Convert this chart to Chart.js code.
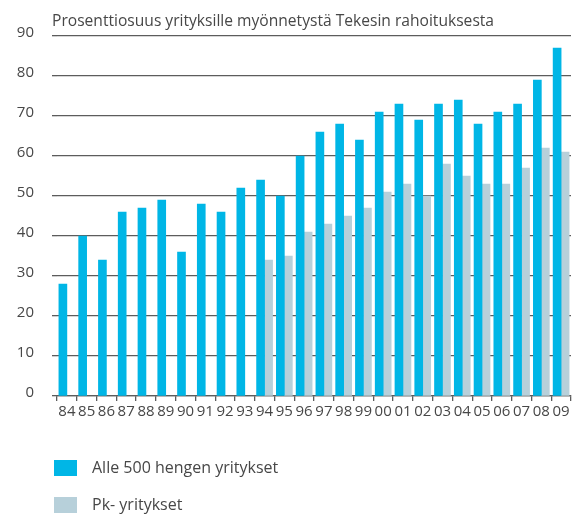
<!DOCTYPE html>
<html>
<head>
<meta charset="utf-8">
<script src="https://cdn.jsdelivr.net/npm/chart.js@4.4.1/dist/chart.umd.min.js"></script>
<style>
  html, body { margin: 0; padding: 0; background: #fff; }
  #wrap { width: 577px; height: 518px; position: relative; }
</style>
</head>
<body>
<div id="wrap"><canvas id="myChart"></canvas></div>
<script>
const chartTitle = "Prosenttiosuus yrityksille myönnetystä Tekesin rahoituksesta";
const years = ["84", "85", "86", "87", "88", "89", "90", "91", "92", "93", "94", "95", "96",
  "97", "98", "99", "00", "01", "02", "03", "04", "05", "06", "07", "08", "09"];
const alle500 = [28, 40, 34, 46, 47, 49, 36, 48, 46, 52, 54, 50, 60,
  66, 68, 64, 71, 73, 69, 73, 74, 68, 71, 73, 79, 87];
const pkYritykset = [null, null, null, null, null, null, null, null, null, null, 34, 35, 41,
  43, 45, 47, 51, 53, 50, 58, 55, 53, 53, 57, 62, 61];
const seriesNames = ["Alle 500 hengen yritykset", "Pk- yritykset"];
const yMin = 0, yMax = 90, yStep = 10;

const cyan = "#00b6e6";
const grey = "#b7d0da";
const textColor = "#474747";
const lineColor = "#5c5c5c";
const fontFamily = "'Open Sans', sans-serif";

// otsikko ja selite piirretään itse
const extras = {
  id: "extras",
  afterDraw(chart) {
    const c = chart.ctx;
    const area = chart.chartArea;
    c.save();
    c.fillStyle = textColor;
    c.font = "15.6px " + fontFamily;
    c.textBaseline = "alphabetic";
    c.fillText(chartTitle, area.left - 5, 26);

    c.font = "16px " + fontFamily;
    const items = chart.data.datasets;
    items.forEach((ds, i) => {
      const y = 460 + i * 37;
      c.fillStyle = ds.backgroundColor;
      c.fillRect(54, y, 23, 16);
      c.fillStyle = textColor;
      c.textBaseline = "middle";
      c.fillText(ds.label, 92, y + 8);
    });
    c.restore();
  }
};

const ctx = document.getElementById("myChart");
new Chart(ctx, {
  type: "bar",
  data: {
    labels: years,
    datasets: [
      { label: seriesNames[0], data: alle500, backgroundColor: cyan, barThickness: 8 },
      { label: seriesNames[1], data: pkYritykset, backgroundColor: grey, barThickness: 8 },
    ],
  },
  options: {
    responsive: true,
    maintainAspectRatio: false,
    animation: false,
    layout: { padding: { top: 36, right: 6, bottom: 92, left: 0 } },
    scales: {
      x: {
        grid: {
          drawOnChartArea: false, // vain tikit akselilla
          drawTicks: true,
          tickLength: 5,
          color: lineColor,
          lineWidth: 1.3,
        },
        border: { display: true, color: lineColor, width: 1.3 },
        ticks: {
          color: textColor,
          font: { family: fontFamily, size: 15 },
          padding: 2,
          maxRotation: 0,
          autoSkip: false,
        },
        afterFit: (s) => { s.height = 30; },
      },
      y: {
        min: yMin,
        max: yMax,
        grid: {
          color: lineColor,
          lineWidth: 1.3,
          tickLength: 5,
        },
        border: { display: false },
        ticks: {
          stepSize: yStep,
          color: textColor,
          font: { family: fontFamily, size: 15 },
          padding: 18,
          labelOffset: -3,
        },
        afterFit: (s) => { s.width = 57; },
      },
    },
    plugins: {
      legend: { display: false },
      tooltip: { enabled: false },
    },
  },
  plugins: [extras],
});
</script>
</body>
</html>
